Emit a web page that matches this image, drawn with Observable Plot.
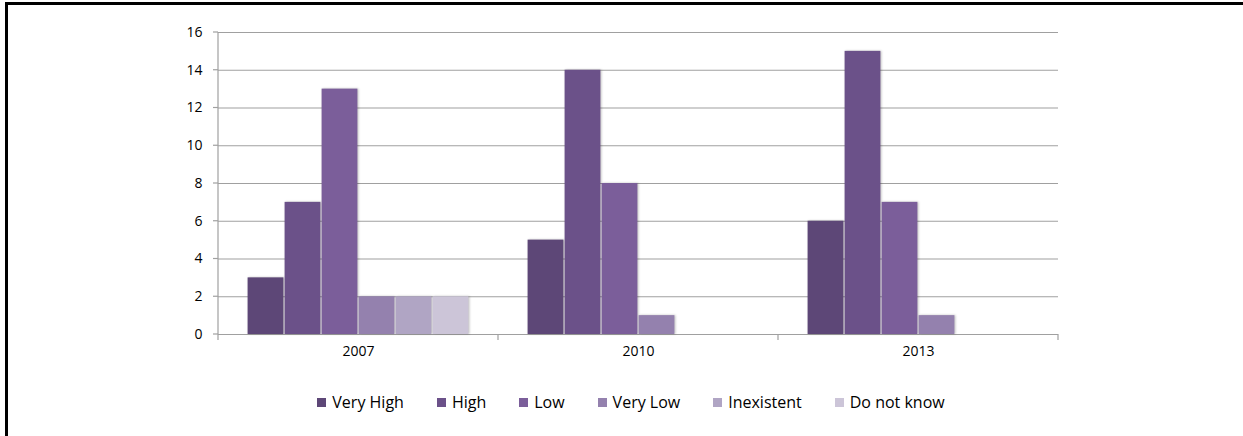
<!DOCTYPE html>
<html>
<head>
<meta charset="utf-8">
<script src="https://cdn.jsdelivr.net/npm/d3@7"></script>
<script src="https://cdn.jsdelivr.net/npm/@observablehq/plot@0.6"></script>
<style>
  html, body { margin: 0; padding: 0; background: #fff; }
  body { width: 1243px; height: 436px; position: relative; overflow: hidden; font-family: "Open Sans", sans-serif; }
  #frame { position: absolute; left: 5px; top: 2px; width: 1300px; height: 500px; border-left: 3px solid #000; border-top: 3px solid #000; box-sizing: border-box; }
  #chart { position: absolute; left: 0; top: 0; }
  #legend { position: absolute; top: 391px; left: 0; width: 1262px; display: flex; justify-content: center; gap: 33px; font-size: 16px; color: #000; }
  .item { display: flex; align-items: center; gap: 6px; }
  .sw { width: 9px; height: 9px; display: inline-block; }
</style>
</head>
<body>
<div id="frame"></div>
<div id="chart"></div>
<div id="legend"></div>
<script>
const years = ["2007", "2010", "2013"];
const categories = ["Very High", "High", "Low", "Very Low", "Inexistent", "Do not know"];
const values2007 = [3, 7, 13, 2, 2, 2];
const values2010 = [5, 14, 8, 1, 0, 0];
const values2013 = [6, 15, 7, 1, 0, 0];
const colors = ["#5d4777", "#6b5189", "#7b5e9a", "#9481ae", "#b0a5c4", "#ccc5d8"];
const yTicks = [0, 2, 4, 6, 8, 10, 12, 14, 16];

const series = [values2007, values2010, values2013];
const data = [];
years.forEach((y, i) => categories.forEach((c, j) => data.push({year: y, category: c, value: series[i][j]})));

const plot = Plot.plot({
  width: 1243,
  height: 375,
  marginLeft: 218,
  marginRight: 185,
  marginTop: 32,
  marginBottom: 41,
  style: {fontFamily: "Open Sans, sans-serif", fontSize: "14px", color: "#000", overflow: "visible"},
  fx: {domain: years, padding: 0, label: null, tickSize: 0, tickPadding: 12},
  x: {domain: categories, paddingInner: 0, paddingOuter: 0.75, axis: null},
  y: {domain: [0, 16], ticks: yTicks, label: null, tickSize: 0, tickPadding: 16},
  color: {domain: categories, range: colors},
  marks: [
    Plot.gridY(yTicks, {stroke: "#a0a0a0", strokeOpacity: 1, strokeWidth: 1.2}),
    Plot.barY(data.filter(d => d.value > 0), {
      fx: "year", x: "category", y: "value", fill: "category",
      insetLeft: 0.6, insetRight: 0.6
    })
  ]
});
document.getElementById("chart").appendChild(plot);

// axis lines and boundary ticks from the library's scales
const svg = d3.select(plot);
const fx = plot.scale("fx");
const yS = plot.scale("y");
const y0 = yS.apply(0), y16 = yS.apply(16);
const step = fx.step;
const left = fx.apply(years[0]);
const g = svg.append("g").attr("stroke", "#a0a0a0").attr("stroke-width", 1.2);
yTicks.forEach(t => g.append("line").attr("x1", left - 5).attr("x2", left).attr("y1", yS.apply(t)).attr("y2", yS.apply(t)));
g.append("line").attr("x1", left).attr("x2", left).attr("y1", y16).attr("y2", y0 + 6);
for (let i = 1; i <= years.length; i++) {
  const x = left + i * step;
  g.append("line").attr("x1", x).attr("x2", x).attr("y1", y0).attr("y2", y0 + 6);
}
svg.selectAll("g[aria-label='bar'] rect").style("filter", "drop-shadow(1px 0px 1px rgba(0,0,0,0.25))");

const legend = document.getElementById("legend");
categories.forEach((c, i) => {
  const it = document.createElement("div");
  it.className = "item";
  const sw = document.createElement("span");
  sw.className = "sw";
  sw.style.background = colors[i];
  const tx = document.createElement("span");
  tx.textContent = c;
  it.appendChild(sw); it.appendChild(tx);
  legend.appendChild(it);
});
</script>
</body>
</html>
